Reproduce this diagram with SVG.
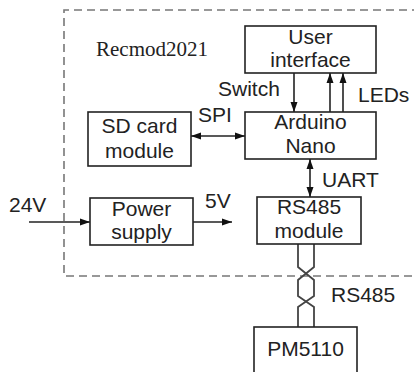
<svg xmlns="http://www.w3.org/2000/svg" width="414" height="372" viewBox="0 0 414 372">
<style>
.box{fill:#fff;stroke:#222;stroke-width:1.6}
.t{font-family:"Liberation Sans",Arial,sans-serif;font-size:21px;fill:#222;text-anchor:middle}
.l{font-family:"Liberation Sans",Arial,sans-serif;font-size:21px;fill:#222}
.w{fill:none;stroke:#222;stroke-width:1.6}
.tw{fill:none;stroke:#444;stroke-width:1.8}
</style>
<defs>
<marker id="ah" markerUnits="userSpaceOnUse" markerWidth="10" markerHeight="8" refX="10" refY="4" orient="auto-start-reverse">
<path d="M0,0.5 L10,4 L0,7.5 Z" fill="#111"/>
</marker>
</defs>
<rect width="414" height="372" fill="#fff"/>
<g id="boundary">
<path d="M420,10 H64 V276 H420" fill="none" stroke="#777" stroke-width="1.6" stroke-dasharray="8,5"/>
<text x="96" y="56" font-family="'Liberation Serif','Times New Roman',serif" font-size="21px" fill="#222">Recmod2021</text>
</g>
<g id="connectors">
<line class="w" x1="294" y1="73" x2="294" y2="112" marker-end="url(#ah)"/>
<line class="w" x1="330" y1="112" x2="330" y2="73" marker-end="url(#ah)"/>
<line class="w" x1="343" y1="112" x2="343" y2="73" marker-end="url(#ah)"/>
<line class="w" x1="191" y1="136" x2="245" y2="136" marker-start="url(#ah)" marker-end="url(#ah)"/>
<line class="w" x1="310" y1="159" x2="310" y2="197" marker-start="url(#ah)" marker-end="url(#ah)"/>
<line class="w" x1="29" y1="222" x2="90" y2="222" marker-end="url(#ah)"/>
<line class="w" x1="193" y1="222" x2="232" y2="222" marker-end="url(#ah)"/>
<path class="tw" d="M298,244 V267 L314,280 V296 L298,307 V327"/>
<path class="tw" d="M314,244 V267 L298,280 V296 L314,307 V327"/>
<text class="l" x="218" y="96">Switch</text>
<text class="l" x="358" y="102">LEDs</text>
<text class="l" x="198" y="122">SPI</text>
<text class="l" x="322" y="187">UART</text>
<text class="l" x="9" y="212">24V</text>
<text class="l" x="205" y="208">5V</text>
<text class="l" x="331" y="302">RS485</text>
</g>
<g id="user-interface">
<rect class="box" x="245" y="26" width="131" height="47"/>
<text class="t" x="310.5" y="44">User</text>
<text class="t" x="310.5" y="67">interface</text>
</g>
<g id="arduino-nano">
<rect class="box" x="245" y="112" width="131" height="47"/>
<text class="t" x="310.5" y="129">Arduino</text>
<text class="t" x="310.5" y="153">Nano</text>
</g>
<g id="sd-card-module">
<rect class="box" x="88" y="112" width="103" height="54"/>
<text class="t" x="139.5" y="133">SD card</text>
<text class="t" x="139.5" y="158">module</text>
</g>
<g id="power-supply">
<rect class="box" x="90" y="198" width="103" height="47"/>
<text class="t" x="141.5" y="216">Power</text>
<text class="t" x="141.5" y="239">supply</text>
</g>
<g id="rs485-module">
<rect class="box" x="257" y="197" width="104" height="47"/>
<text class="t" x="309" y="214">RS485</text>
<text class="t" x="309" y="238">module</text>
</g>
<g id="pm5110">
<rect class="box" x="254" y="327" width="103" height="60"/>
<text class="t" x="305.5" y="356">PM5110</text>
</g>
</svg>
